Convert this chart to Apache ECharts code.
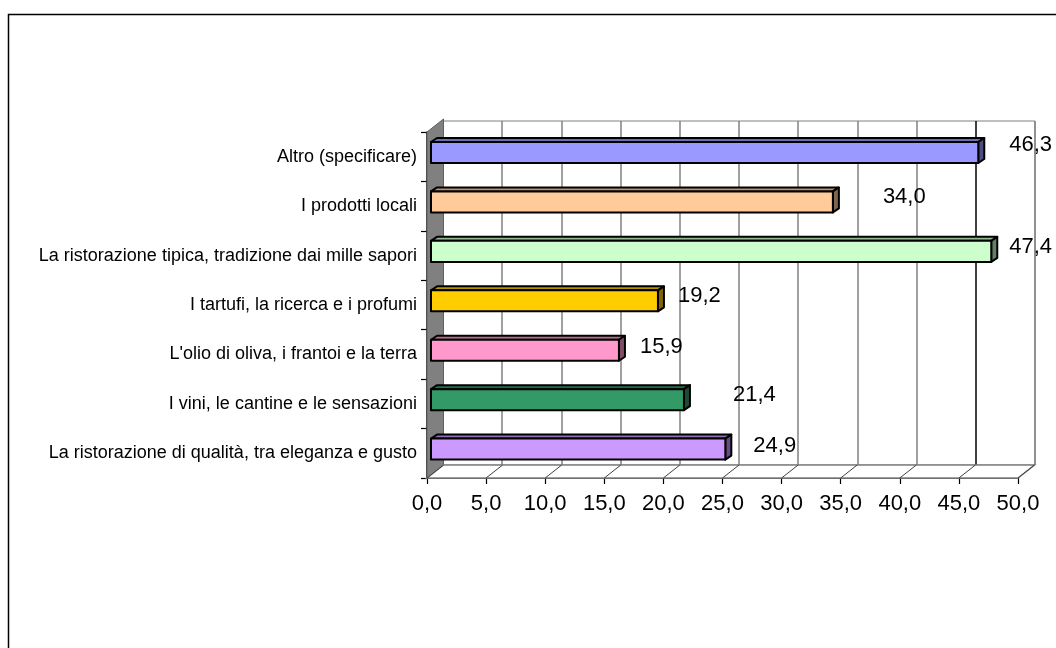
<!DOCTYPE html>
<html>
<head>
<meta charset="utf-8">
<script src="https://cdn.jsdelivr.net/npm/echarts@6/dist/echarts.min.js"></script>
<style>
html,body{margin:0;padding:0;background:#fff;}
#chart{width:1056px;height:648px;}
</style>
</head>
<body>
<div id="chart"></div>
<script>
// ---- data (bottom-to-top category order) ----
const categories = [
  "La ristorazione di qualità, tra eleganza e gusto",
  "I vini, le cantine e le sensazioni",
  "L'olio di oliva, i frantoi e la terra",
  "I tartufi, la ricerca e i profumi",
  "La ristorazione tipica, tradizione dai mille sapori",
  "I prodotti locali",
  "Altro (specificare)"
];
const values = [24.9, 21.4, 15.9, 19.2, 47.4, 34.0, 46.3];
const xTicks = [0, 5, 10, 15, 20, 25, 30, 35, 40, 45, 50];

// ---- styles ----
const barColors = ['#CC99FF', '#339966', '#FF99CC', '#FFCC00', '#CCFFCC', '#FFCC99', '#9999FF'];
const labelDx = [28, 49, 21, 20, 18, 50, 31];
const labelDy = [-3.5, -5, -3.5, -5, -4.5, -5, -7.5];
const FONT = "'Liberation Sans', Arial, Helvetica, sans-serif";

function shade(hex, f) {
  const n = parseInt(hex.slice(1), 16);
  const r = Math.round(((n >> 16) & 255) * f);
  const g = Math.round(((n >> 8) & 255) * f);
  const b = Math.round((n & 255) * f);
  return 'rgb(' + r + ',' + g + ',' + b + ')';
}
function fmt(v) { return v.toFixed(1).replace('.', ','); }

const chart = echarts.init(document.getElementById('chart'), null, {renderer: 'canvas'});

const WALL_DX = 16.5, WALL_DY = -13;
const BAR_OX = 4, BAR_OY = -4.2, BAR_DX = 6, BAR_DY = -4;

const option = {
  backgroundColor: '#fff',
  animation: false,
  graphic: [{
    type: 'rect', left: 6, top: 12, z: 0,
    shape: {x: 0, y: 0, width: 1100, height: 700},
    style: {fill: 'none', stroke: '#000', lineWidth: 1.5}
  }],
  grid: [
    {left: 427, top: 132, width: 591, height: 346, containLabel: false},
    {left: 443, top: 121, width: 592, height: 344, containLabel: false,
     show: true, borderColor: '#808080', borderWidth: 1, backgroundColor: '#fff'}
  ],
  xAxis: [
    {gridIndex: 0, type: 'value', min: 0, max: 50, interval: 5,
     axisLine: {show: true, lineStyle: {color: '#000', width: 1.5}},
     axisTick: {show: true, length: 6, lineStyle: {color: '#000', width: 1.2}},
     axisLabel: {formatter: fmt, color: '#000', fontSize: 22, fontFamily: FONT, margin: 15},
     splitLine: {show: false}},
    {gridIndex: 1, type: 'value', min: 0, max: 50, interval: 5,
     axisLine: {show: false}, axisTick: {show: false}, axisLabel: {show: false},
     splitLine: {show: true, lineStyle: {color: ['#808080','#808080','#808080','#808080','#808080','#808080','#808080','#808080','#808080','#000','#808080'], width: 1.5}}}
  ],
  yAxis: [
    {gridIndex: 0, type: 'category', data: categories,
     axisLine: {show: true, lineStyle: {color: '#000', width: 1.5}},
     axisTick: {show: true, length: 6, lineStyle: {color: '#000', width: 1.2}},
     axisLabel: {color: '#000', fontSize: 18, fontFamily: FONT, margin: 10}},
    {gridIndex: 1, type: 'category', data: categories, show: false}
  ],
  series: [
    {
      // wall and floor of the 3D frame
      type: 'custom', xAxisIndex: 0, yAxisIndex: 0, z: 1, silent: true,
      data: xTicks.map(function (t) { return [t, 0]; }),
      renderItem: function (params, api) {
        const cs = params.coordSys;
        const bottom = cs.y + cs.height;
        const children = [];
        const fx = api.coord([api.value(0), 0])[0];
        if (params.dataIndex === 0) {
          const left = cs.x, right = cs.x + cs.width, top = cs.y;
          children.push({type: 'polygon', shape: {points: [[left, top], [left + WALL_DX, top + WALL_DY], [left + WALL_DX, bottom + WALL_DY], [left, bottom]]},
            style: {fill: '#808080', stroke: '#606060', lineWidth: 1}});
          children.push({type: 'polygon', shape: {points: [[left, bottom], [right, bottom], [right + WALL_DX, bottom + WALL_DY], [left + WALL_DX, bottom + WALL_DY]]},
            style: {fill: '#fff', stroke: '#808080', lineWidth: 1.5}});
        }
        children.push({type: 'line', shape: {x1: fx, y1: bottom, x2: fx + WALL_DX, y2: bottom + WALL_DY},
          style: {stroke: '#404040', lineWidth: 1}});
        return {type: 'group', children: children};
      }
    },
    {
      // 3D bars
      type: 'custom', xAxisIndex: 0, yAxisIndex: 0, z: 5,
      data: values.map(function (v, i) { return [v, i]; }),
      renderItem: function (params, api) {
        const i = params.dataIndex;
        const v = api.value(0);
        const pEnd = api.coord([v, i]);
        const p0 = api.coord([0, i]);
        const h = api.size([0, 1])[1] * 0.425;
        const x0 = p0[0] + BAR_OX, x1 = pEnd[0] + BAR_OX;
        const yc = pEnd[1] + BAR_OY;
        const yt = yc - h / 2, yb = yc + h / 2;
        const c = barColors[i];
        const st = {stroke: '#000', lineWidth: 2, lineJoin: 'round'};
        return {type: 'group', children: [
          {type: 'polygon', shape: {points: [[x0, yt], [x1, yt], [x1 + BAR_DX, yt + BAR_DY], [x0 + BAR_DX, yt + BAR_DY]]},
            style: Object.assign({fill: shade(c, 0.72)}, st)},
          {type: 'polygon', shape: {points: [[x1, yt], [x1 + BAR_DX, yt + BAR_DY], [x1 + BAR_DX, yb + BAR_DY], [x1, yb]]},
            style: Object.assign({fill: shade(c, 0.5)}, st)},
          {type: 'rect', shape: {x: x0, y: yt, width: x1 - x0, height: h},
            style: Object.assign({fill: c}, st)},
          {type: 'text', x: x1 + labelDx[i], y: yc + labelDy[i], z2: 10,
            style: {text: fmt(v), fill: '#000', font: '22px ' + FONT, textAlign: 'left', textVerticalAlign: 'middle'}}
        ]};
      }
    }
  ]
};
chart.setOption(option);
</script>
</body>
</html>
